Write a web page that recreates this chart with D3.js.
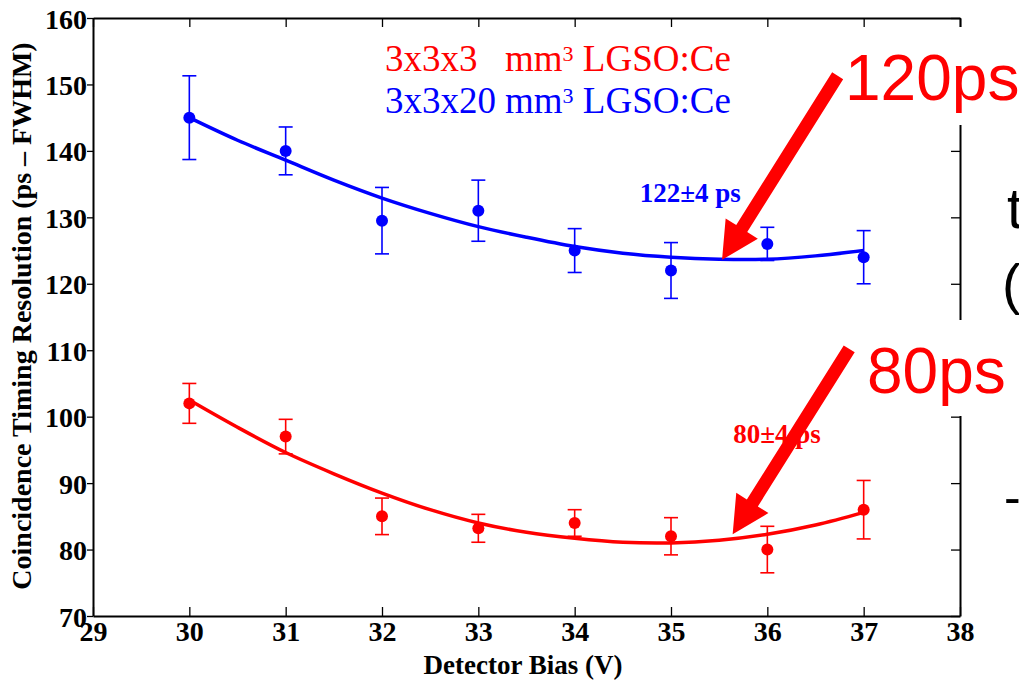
<!DOCTYPE html>
<html>
<head>
<meta charset="utf-8">
<script src="https://cdn.jsdelivr.net/npm/d3@7"></script>
<style>
  html, body { margin: 0; padding: 0; background: #fff; }
  svg { display: block; }
  text { white-space: pre; }
</style>
</head>
<body>
<svg id="chart" width="1019" height="680"></svg>
<script>
// Detector bias settings (V)
const biasV = [30, 31, 32, 33, 34, 35, 36, 37];

// 3x3x20 mm^3 crystal: measured CTR and its uncertainty (ps FWHM)
const longCrystalCTR = [145, 140, 129.5, 131, 125, 122, 126, 124];
const longCrystalErr = [6.3, 3.6, 5.0, 4.6, 3.3, 4.2, 2.5, 4.0];

// 3x3x3 mm^3 crystal: measured CTR and its uncertainty (ps FWHM)
const shortCrystalCTR = [102, 97, 85, 83.2, 84, 82, 80, 86];
const shortCrystalErr = [3.0, 2.6, 2.75, 2.1, 2.0, 2.8, 3.5, 4.4];

// Fitted trend curves, sampled every 0.5 V
const fitBias = [30, 30.5, 31, 31.5, 32, 32.5, 33, 33.5, 34, 34.5, 35, 35.5, 36, 36.5, 37];
const longCrystalFit = [145.0, 141.6, 138.6, 135.6, 132.9, 130.6, 128.6, 127.0, 125.6, 124.6, 124.0, 123.7, 123.7, 124.2, 125.0];
const shortCrystalFit = [102.5, 98.4, 94.6, 91.4, 88.5, 86.0, 84.0, 82.6, 81.7, 81.1, 81.0, 81.4, 82.3, 83.7, 85.6];

// Axis ticks
const xTickValues = [29, 30, 31, 32, 33, 34, 35, 36, 37, 38];
const yTickValues = [70, 80, 90, 100, 110, 120, 130, 140, 150, 160];

// Best-value callouts: [label, x, y] in data units, and arrows [tailX, tailY, tipX, tipY]
const longLabel = ["122±4 ps", 35.2, 132.3];
const shortLabel = ["80±4 ps", 36.1, 96.0];
const longArrow = [36.73, 151.3, 35.53, 123.6];
const shortArrow = [36.85, 110.2, 35.64, 82.3];

const RED = "#ff0000", BLUE = "#0000ff";
const SERIF = "'Liberation Serif', 'Times New Roman', serif";
const SANS = "'Liberation Sans', Arial, sans-serif";

const svg = d3.select("#chart");
const xScale = d3.scaleLinear().domain([29, 38]).range([93, 960]);
const yScale = d3.scaleLinear().domain([70, 160]).range([616, 18]);

// ---- axes box with ticks on every side ----
const axisBottomG = svg.append("g").attr("transform", `translate(0,${yScale(70)})`)
  .call(d3.axisBottom(xScale).tickValues(xTickValues).tickSizeInner(-9).tickSizeOuter(0).tickPadding(5).tickFormat(d3.format("d")));
const axisTopG = svg.append("g").attr("transform", `translate(0,${yScale(160)})`)
  .call(d3.axisTop(xScale).tickValues(xTickValues).tickSizeInner(-9).tickSizeOuter(0).tickFormat(""));
const axisLeftG = svg.append("g").attr("transform", `translate(${xScale(29)},0)`)
  .call(d3.axisLeft(yScale).tickValues(yTickValues).tickSizeInner(6).tickSizeOuter(0).tickPadding(0).tickFormat(d3.format("d")));
const axisRightG = svg.append("g").attr("transform", `translate(${xScale(38)},0)`)
  .call(d3.axisRight(yScale).tickValues(yTickValues).tickSizeInner(-9).tickSizeOuter(0).tickFormat(""));

[axisBottomG, axisTopG, axisLeftG, axisRightG].forEach(g => {
  g.select(".domain").attr("stroke", "#000").attr("stroke-width", 2);
  g.selectAll(".tick line").attr("stroke", "#000").attr("stroke-width", 1.3);
  g.selectAll(".tick text")
    .attr("fill", "#000")
    .style("font-family", SERIF)
    .style("font-weight", "bold")
    .style("font-size", "28px");
});
axisLeftG.selectAll(".tick text").attr("dy", "0.36em");
axisBottomG.selectAll(".tick text").attr("dy", "0.72em");

// axis titles
svg.append("text")
  .attr("x", 523).attr("y", 674)
  .attr("text-anchor", "middle")
  .style("font-family", SERIF).style("font-weight", "bold").style("font-size", "27px")
  .text("Detector Bias (V)");

svg.append("text")
  .attr("transform", "translate(31,316) rotate(-90)")
  .attr("text-anchor", "middle")
  .style("font-family", SERIF).style("font-weight", "bold").style("font-size", "28px")
  .text("Coincidence Timing Resolution (ps \u2013 FWHM)");

// ---- data series ----
function drawSeries(values, errs, fit, color) {
  const g = svg.append("g");
  const line = d3.line().x((d, i) => xScale(fitBias[i])).y(d => yScale(d)).curve(d3.curveCatmullRom);
  g.append("path").datum(fit)
    .attr("d", line)
    .attr("fill", "none").attr("stroke", color).attr("stroke-width", 3.5);

  const pts = biasV.map((b, i) => ({ b, v: values[i], e: errs[i] }));
  const bars = g.selectAll(".eb").data(pts).enter().append("g");
  bars.append("line")
    .attr("x1", d => xScale(d.b)).attr("x2", d => xScale(d.b))
    .attr("y1", d => yScale(d.v + d.e)).attr("y2", d => yScale(d.v - d.e))
    .attr("stroke", color).attr("stroke-width", 1.6);
  [1, -1].forEach(s => {
    bars.append("line")
      .attr("x1", d => xScale(d.b) - 7).attr("x2", d => xScale(d.b) + 7)
      .attr("y1", d => yScale(d.v + s * d.e)).attr("y2", d => yScale(d.v + s * d.e))
      .attr("stroke", color).attr("stroke-width", 1.6);
  });
  bars.append("circle")
    .attr("cx", d => xScale(d.b)).attr("cy", d => yScale(d.v)).attr("r", 6)
    .attr("fill", color);
}
drawSeries(longCrystalCTR, longCrystalErr, longCrystalFit, BLUE);
drawSeries(shortCrystalCTR, shortCrystalErr, shortCrystalFit, RED);

// ---- legend text ----
function legendLine(prefix, baseline, color) {
  const t = svg.append("text")
    .attr("y", baseline)
    .attr("fill", color)
    .style("font-family", SERIF).style("font-size", "37px");
  t.append("tspan").attr("x", 385).text(prefix);
  t.append("tspan").attr("x", 505).text("mm");
  t.append("tspan").attr("dy", -10).style("font-size", "22px").text("3");
  t.append("tspan").attr("dy", 10).text(" LGSO:Ce");
}
legendLine("3x3x3", 71, RED);
legendLine("3x3x20", 113, BLUE);

// ---- best-value callouts ----
[[longLabel, BLUE], [shortLabel, RED]].forEach(([lab, color]) => {
  svg.append("text")
    .attr("x", xScale(lab[1])).attr("y", yScale(lab[2]))
    .attr("text-anchor", "middle")
    .attr("fill", color)
    .style("font-family", SERIF).style("font-weight", "bold").style("font-size", "27px")
    .text(lab[0]);
});

// ---- slide overlay: large headline values on white panels ----
svg.append("rect").attr("x", 845).attr("y", 27).attr("width", 174).attr("height", 98).attr("fill", "#fff");
svg.append("rect").attr("x", 862).attr("y", 320).attr("width", 157).attr("height", 96).attr("fill", "#fff");

svg.append("text").attr("x", 845).attr("y", 100).attr("fill", RED)
  .style("font-family", SANS).style("font-size", "64px").text("120ps");
svg.append("text").attr("x", 867).attr("y", 393).attr("fill", RED)
  .style("font-family", SANS).style("font-size", "64px").text("80ps");

// slide body text running off the right edge
svg.append("text").attr("x", 1007).attr("y", 228).attr("fill", "#000")
  .style("font-family", SANS).style("font-size", "57px").text("t");
svg.append("text").attr("x", 1002).attr("y", 303).attr("fill", "#000")
  .style("font-family", SANS).style("font-size", "56px").text("(");
svg.append("text").attr("x", 1004).attr("y", 514).attr("fill", "#000")
  .style("font-family", SANS).style("font-size", "50px").text("-");

// ---- thick arrows pointing at the fitted minima ----
function arrowPoints(a) {
  const x1 = xScale(a[0]), y1 = yScale(a[1]), x2 = xScale(a[2]), y2 = yScale(a[3]);
  const len = Math.hypot(x2 - x1, y2 - y1);
  const ux = (x2 - x1) / len, uy = (y2 - y1) / len;
  const nx = -uy, ny = ux;
  const sw = 6.5, hw = 19, hl = 37;
  const bx = x2 - ux * hl, by = y2 - uy * hl;
  return [
    [x1 + nx * sw, y1 + ny * sw],
    [bx + nx * sw, by + ny * sw],
    [bx + nx * hw, by + ny * hw],
    [x2, y2],
    [bx - nx * hw, by - ny * hw],
    [bx - nx * sw, by - ny * sw],
    [x1 - nx * sw, y1 - ny * sw]
  ];
}
[longArrow, shortArrow].forEach(a => {
  svg.append("polygon")
    .attr("points", arrowPoints(a).map(p => p.join(",")).join(" "))
    .attr("fill", RED);
});
</script>
</body>
</html>
